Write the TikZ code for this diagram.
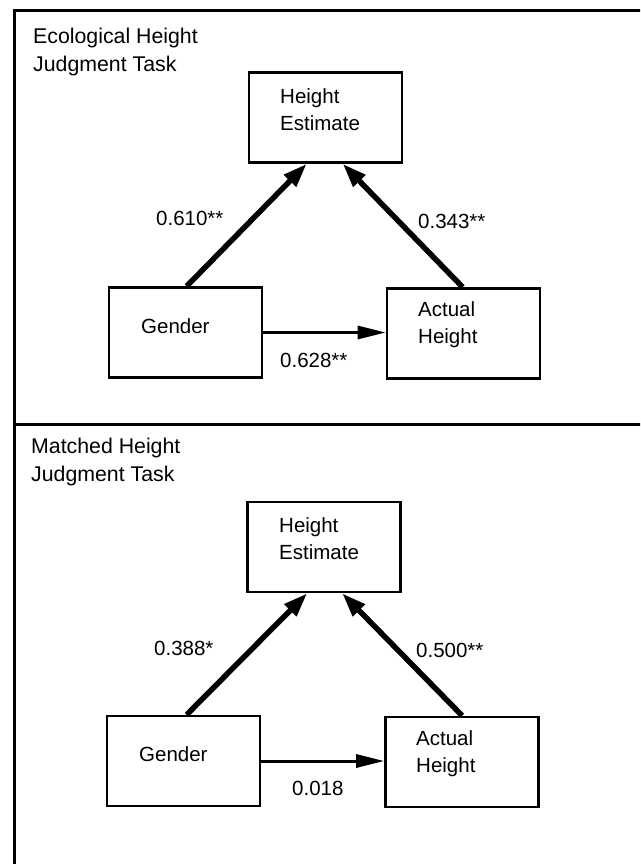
\documentclass[tikz,border=0pt]{standalone}
\usepackage{fontspec}
\setmainfont{Liberation Sans}
\usetikzlibrary{arrows.meta}
\begin{document}
\begin{tikzpicture}[x=1pt,y=-1pt,
  box/.style={draw,line width=2.6pt,minimum width=153pt,minimum height=90pt,inner sep=0pt},
  txt/.style={inner sep=0pt,anchor=west,align=left,font=\fontsize{20.5}{27}\selectfont},
  ttl/.style={txt,font=\fontsize{21.3}{27.5}\selectfont},
  diagarrow/.style={line width=5.5pt,-{Triangle[length=24pt,width=16pt]}},
  horzarrow/.style={line width=3pt,-{Triangle[length=28pt,width=13pt]}},
  frameline/.style={line width=3pt}]
\useasboundingbox (0,0) rectangle (640,864);
\clip (0,0) rectangle (640,864);
% frame
\draw[frameline] (14,870) -- (14,11) -- (650,11);
\draw[frameline] (14,424) -- (650,424);

% ---------- top panel ----------
\node[ttl] (title1) at (33,52) {Ecological Height\\Judgment Task};
\node[box] (he1) at (325.5,117.5) {};
\node[box] (g1) at (185.5,332.5) {};
\node[box] (a1) at (463.5,333.5) {};
\node[txt] (he1t) at (280,109.5) {Height\\Estimate};
\node[txt] (g1t) at (141,326) {Gender};
\node[txt] (a1t) at (418,324.5) {Actual\\Height};
\draw[diagarrow] ([xshift=79pt]g1.north west) -- ([xshift=59pt]he1.south west);
\draw[diagarrow] ([xshift=77pt]a1.north west) -- ([xshift=95pt]he1.south west);
\draw[horzarrow] (g1.east) -- (g1.east -| a1.west);
\node[txt] (l1a) at (156,218) {0.610**};
\node[txt] (l1b) at (418,221) {0.343**};
\node[txt] (l1c) at (280,360) {0.628**};

% ---------- bottom panel ----------
\node[ttl] (title2) at (31,462) {Matched Height\\Judgment Task};
\node[box] (he2) at (324,547) {};
\node[box] (g2) at (183.5,761) {};
\node[box] (a2) at (462,762) {};
\node[txt] (he2t) at (279,539) {Height\\Estimate};
\node[txt] (g2t) at (139,754) {Gender};
\node[txt] (a2t) at (416,754) {Actual\\Height};
\draw[diagarrow] ([xshift=81pt]g2.north west) -- ([xshift=61pt]he2.south west);
\draw[diagarrow] ([xshift=78pt]a2.north west) -- ([xshift=96pt]he2.south west);
\draw[horzarrow] (g2.east) -- (g2.east -| a2.west);
\node[txt] (l2a) at (154,648) {0.388*};
\node[txt] (l2b) at (416,650) {0.500**};
\node[txt] (l2c) at (292,788) {0.018};
\end{tikzpicture}
\end{document}
